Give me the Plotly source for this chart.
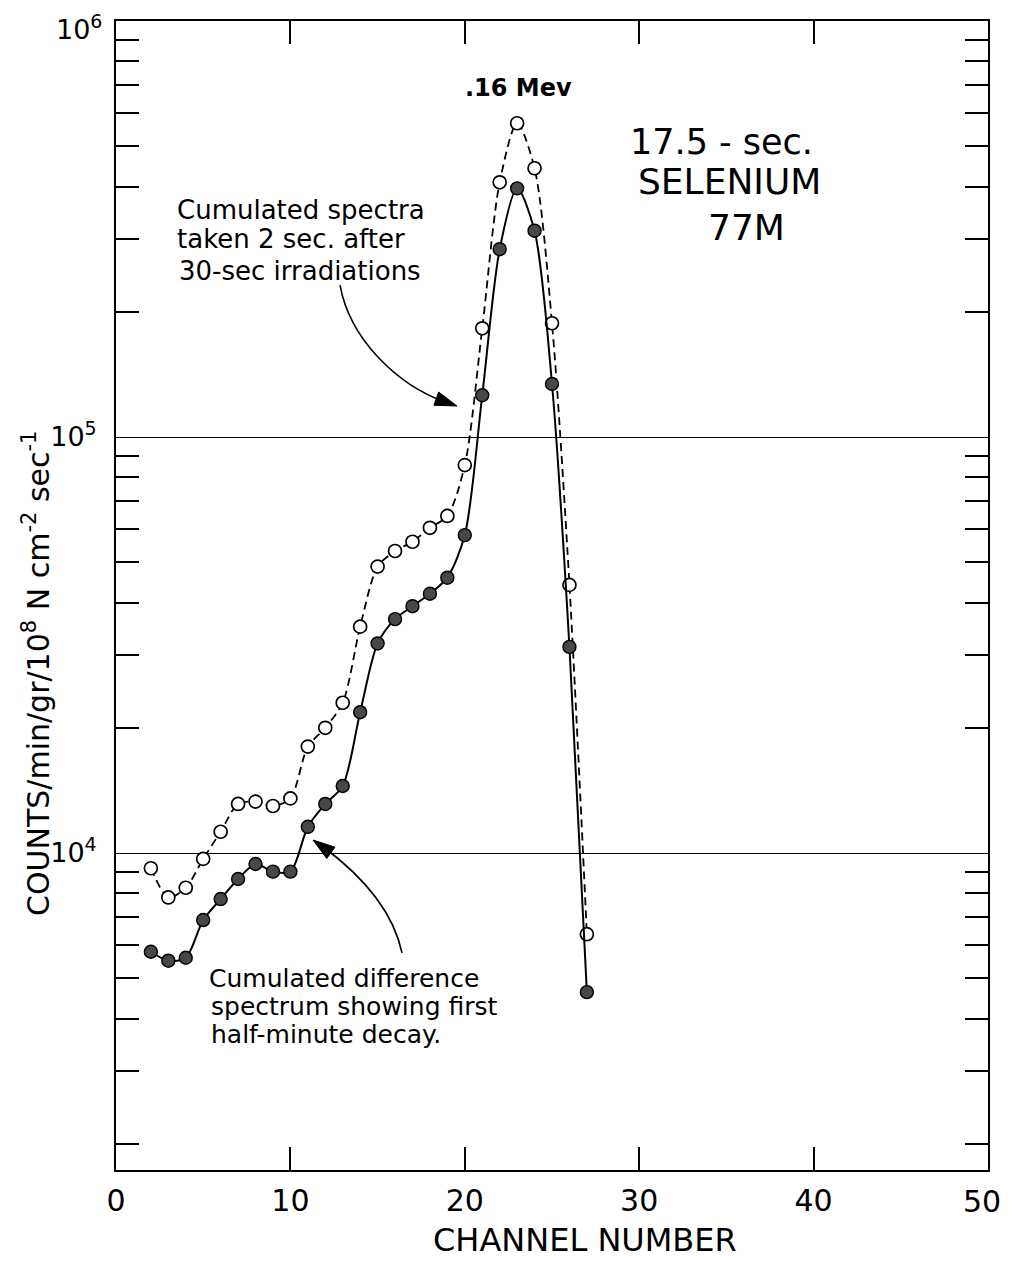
import plotly.graph_objects as go

# ---------------- data ----------------
channels = list(range(2, 28))
cumulated_spectra = [9190, 7820, 8250, 9680, 11250, 13120, 13290, 12970, 13530,
                     18020, 20000, 22970, 35000, 48800, 53200, 56000, 60500, 64600,
                     85600, 182500, 409500, 567800, 442600, 187700, 44100, 6380]
difference_spectrum = [5790, 5510, 5600, 6900, 7750, 8660, 9410, 9020, 9020,
                       11560, 13120, 14490, 21800, 31900, 36500, 39200, 42000, 45900,
                       58100, 126000, 282800, 396000, 313300, 134100, 31300, 4630]
x_tick_vals = [0, 10, 20, 30, 40, 50]
x_tick_text = ["0", "10", "20", "30", "40", "50"]
y_major_vals = [1e4, 1e5, 1e6]
y_major_text = ["10<sup>4</sup>", "10<sup>5</sup>", "10<sup>6</sup>"]
y_minor_vals = [m * 10 ** e for e in (3, 4, 5) for m in range(2, 10)]

# ---------------- geometry helpers (layout only) ----------------
# the html page body has an 8px margin, so the figure is shifted by 8px
OFF = 8
W, H = 1012 - 2 * OFF, 1266 - 2 * OFF
ML, MR, MT, MB = 116 - OFF, 16, 21 - OFF, 88
PW, PH = W - ML - MR, H - MT - MB


def px(x):
    return (x - OFF - ML) / PW


def py(y):
    return (H - MB - (y - OFF)) / PH


FONT = "DejaVu Sans"

fig = go.Figure()

fig.add_trace(go.Scatter(
    x=channels, y=cumulated_spectra, mode="lines+markers",
    line=dict(color="black", width=1.8, dash="8px,5px", shape="spline", smoothing=0.8),
    marker=dict(symbol="circle", size=13, color="white", line=dict(color="black", width=1.7)),
    name="Cumulated spectra"))

fig.add_trace(go.Scatter(
    x=channels, y=difference_spectrum, mode="lines+markers",
    line=dict(color="black", width=2, shape="spline", smoothing=0.8),
    marker=dict(symbol="circle", size=13, color="#474747", line=dict(color="black", width=1.4)),
    name="Cumulated difference spectrum"))

fig.update_layout(
    width=W, height=H,
    margin=dict(l=ML, r=MR, t=MT, b=MB, autoexpand=False),
    plot_bgcolor="white", paper_bgcolor="white",
    showlegend=False,
    font=dict(family=FONT, color="black"),
)

# the outermost tick labels (at the very edge of the page) are written as
# annotations below so that they are not clipped by the page border
x_axis_text = x_tick_text[:-1] + [""]
y_axis_text = y_major_text[:-1] + [""]

fig.update_xaxes(
    range=[0, 50], tickvals=x_tick_vals, ticktext=x_axis_text,
    ticks="inside", ticklen=23, tickwidth=1.5, tickcolor="black",
    showline=True, linewidth=2, linecolor="black", mirror="ticks",
    showgrid=False, zeroline=False, automargin=False,
    tickfont=dict(size=30, family=FONT), ticklabelstandoff=3,
)

fig.update_yaxes(
    type="log", range=[3.238, 6],
    tickvals=y_major_vals, ticktext=y_axis_text, ticks="",
    showgrid=True, gridcolor="black", gridwidth=1.3,
    showline=True, linewidth=2, linecolor="black", mirror="ticks",
    zeroline=False, automargin=False,
    tickfont=dict(size=27, family=FONT), ticklabelstandoff=12,
    minor=dict(tickvals=y_minor_vals, ticks="inside", ticklen=23, tickwidth=2,
               tickcolor="black", showgrid=False),
)

annotations = []


def add_text(text, x, y, size, xanchor="center", bold=False):
    annotations.append(dict(
        text=("<b>%s</b>" % text) if bold else text,
        x=px(x), y=py(y), xref="paper", yref="paper",
        xanchor=xanchor, yanchor="middle", showarrow=False,
        font=dict(size=size, family=FONT, color="black")))


add_text(y_major_text[-1], 104, 28, 27, xanchor="right")
add_text(x_tick_text[-1], 1003, 1201, 30, xanchor="right")
add_text(".16 Mev", 518, 88, 24, bold=True)
add_text("17.5 - sec.", 721, 142, 35)
add_text("SELENIUM", 729, 182, 36)
add_text("77M", 746, 227, 36)
add_text("Cumulated spectra", 175, 210, 26, xanchor="left")
add_text("taken 2 sec. after", 175, 239, 26, xanchor="left")
add_text("30-sec irradiations", 177, 271, 26, xanchor="left")
add_text("Cumulated difference", 207, 978, 25, xanchor="left")
add_text("spectrum showing first", 209, 1006, 25, xanchor="left")
add_text("half-minute decay.", 209, 1034, 25, xanchor="left")
add_text("CHANNEL NUMBER", 585, 1240, 32)

annotations.append(dict(
    text="COUNTS/min/gr/10<sup>8</sup> N cm<sup>-2</sup> sec<sup>-1</sup>",
    x=px(36), y=py(674), xref="paper", yref="paper",
    xanchor="center", yanchor="middle", textangle=-90, showarrow=False,
    font=dict(size=30, family=FONT, color="black")))

fig.update_layout(annotations=annotations)


def bez(p0, p1, p2, p3):
    pts = [p0, p1, p2, p3]
    return "M {:.4f} {:.4f} C {:.4f} {:.4f}, {:.4f} {:.4f}, {:.4f} {:.4f}".format(
        *[v for p in pts for v in (px(p[0]), py(p[1]))])


def head(tip, frm, length=22, half=7):
    dx, dy = tip[0] - frm[0], tip[1] - frm[1]
    n = (dx * dx + dy * dy) ** 0.5
    ux, uy = dx / n, dy / n
    bx, by = tip[0] - ux * length, tip[1] - uy * length
    a = (bx - uy * half, by + ux * half)
    b = (bx + uy * half, by - ux * half)
    return "M {:.4f} {:.4f} L {:.4f} {:.4f} L {:.4f} {:.4f} Z".format(
        px(tip[0]), py(tip[1]), px(a[0]), py(a[1]), px(b[0]), py(b[1]))


shapes = []
# arrow 1 (cumulated spectra)
c1 = [(340, 285), (350, 340), (398, 385), (445, 402)]
shapes.append(dict(type="path", path=bez(*c1), xref="paper", yref="paper",
                   line=dict(color="black", width=1.6)))
shapes.append(dict(type="path", path=head((457, 406), (398, 385)), xref="paper", yref="paper",
                   line=dict(color="black", width=1), fillcolor="black"))
# arrow 2 (difference spectrum)
c2 = [(402, 953), (392, 905), (352, 868), (322, 846)]
shapes.append(dict(type="path", path=bez(*c2), xref="paper", yref="paper",
                   line=dict(color="black", width=1.6)))
shapes.append(dict(type="path", path=head((313, 840), (352, 868)), xref="paper", yref="paper",
                   line=dict(color="black", width=1), fillcolor="black"))
fig.update_layout(shapes=shapes)

fig.write_html("out.html")
